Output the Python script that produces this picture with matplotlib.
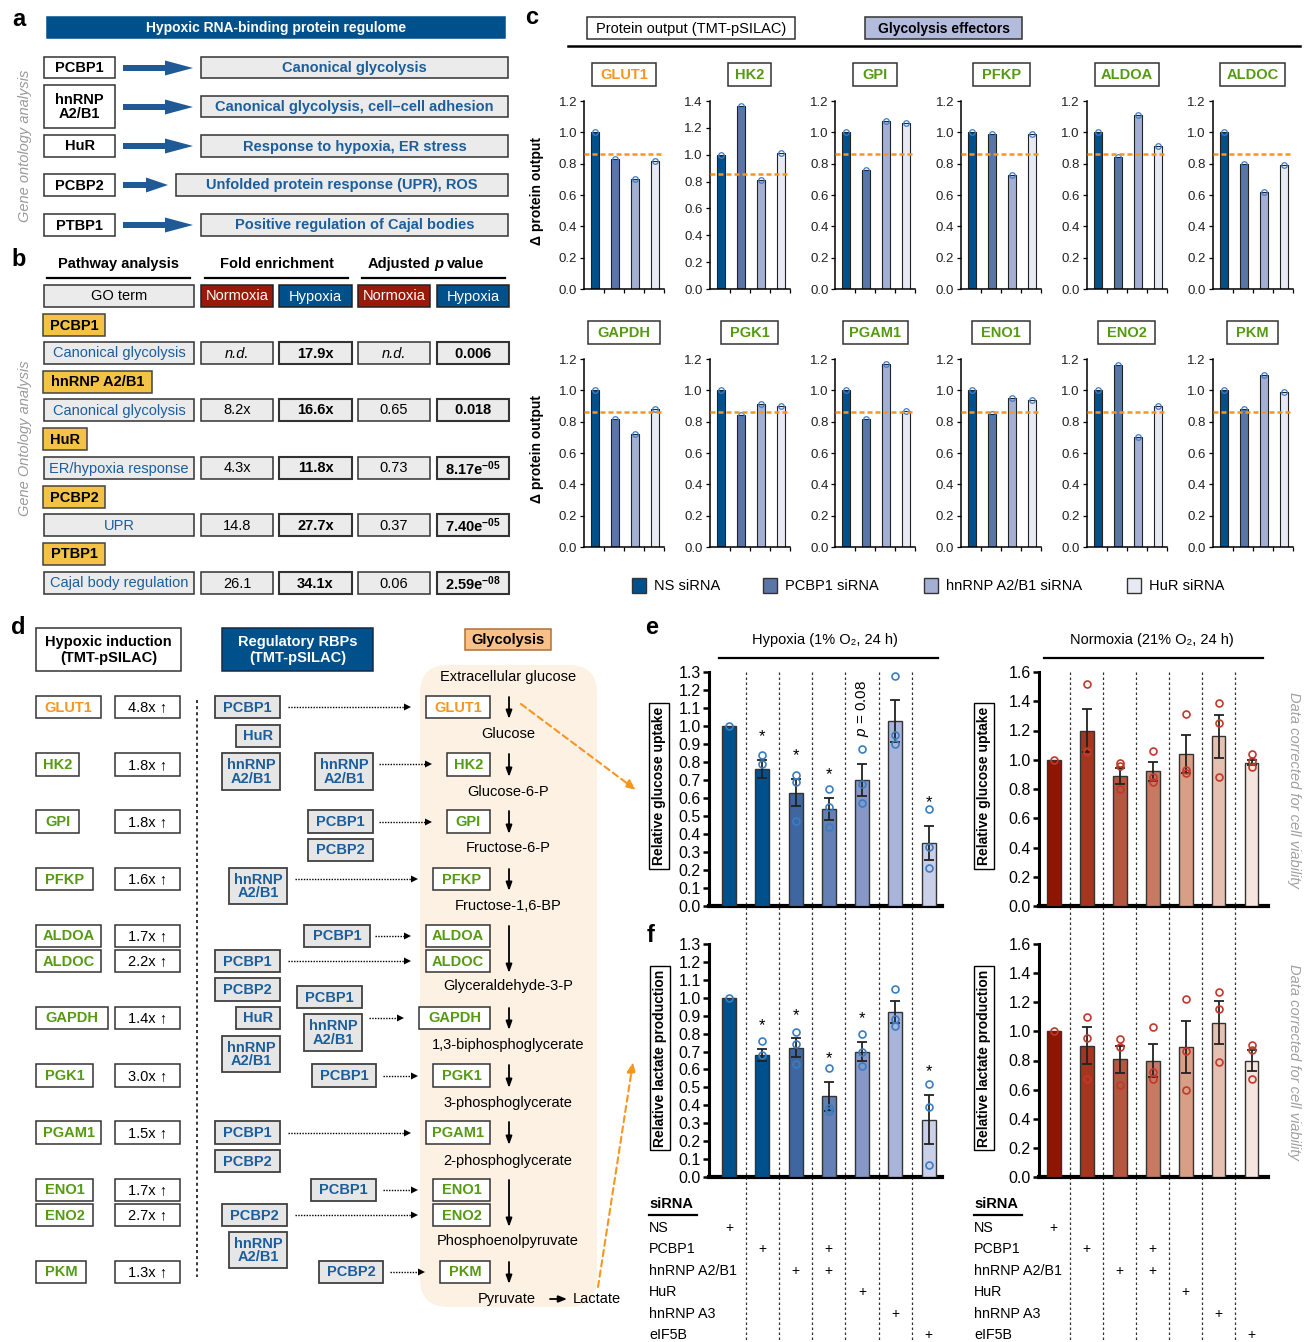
import numpy as np
import matplotlib
matplotlib.use("Agg")
import matplotlib.pyplot as plt
from matplotlib.patches import Rectangle, FancyBboxPatch, FancyArrow, Polygon
from matplotlib.transforms import blended_transform_factory

plt.rcParams.update({"font.family": ["Liberation Sans", "DejaVu Sans"],
                     "mathtext.fontset": "custom", "mathtext.rm": "Liberation Sans",
                     "mathtext.it": "Liberation Sans:italic", "mathtext.bf": "Liberation Sans:bold"})

# ---------------- data ----------------
a_rbps = ["PCBP1", "hnRNP\nA2/B1", "HuR", "PCBP2", "PTBP1"]
a_terms = ["Canonical glycolysis", "Canonical glycolysis, cell\u2013cell adhesion",
           "Response to hypoxia, ER stress", "Unfolded protein response (UPR), ROS",
           "Positive regulation of Cajal bodies"]

b_rbps = ["PCBP1", "hnRNP A2/B1", "HuR", "PCBP2", "PTBP1"]
b_terms = ["Canonical glycolysis", "Canonical glycolysis", "ER/hypoxia response", "UPR",
           "Cajal body regulation"]
b_fold_norm = ["n.d.", "8.2x", "4.3x", "14.8", "26.1"]
b_fold_hyp = ["17.9x", "16.6x", "11.8x", "27.7x", "34.1x"]
b_p_norm = ["n.d.", "0.65", "0.73", "0.37", "0.06"]
b_p_hyp = ["0.006", "0.018", "8.17e^{-05}", "7.40e^{-05}", "2.59e^{-08}"]

c_genes = ["GLUT1", "HK2", "GPI", "PFKP", "ALDOA", "ALDOC",
           "GAPDH", "PGK1", "PGAM1", "ENO1", "ENO2", "PKM"]
c_ns = [1.0] * 12
c_pcbp1 = [0.83, 1.36, 0.76, 0.99, 0.84, 0.80, 0.82, 0.84, 0.82, 0.85, 1.16, 0.88]
c_hnrnp = [0.70, 0.81, 1.07, 0.73, 1.11, 0.62, 0.72, 0.91, 1.17, 0.95, 0.70, 1.10]
c_hur = [0.82, 1.01, 1.06, 0.99, 0.91, 0.79, 0.88, 0.90, 0.87, 0.94, 0.90, 0.99]
c_cut = 0.86
c_series = ["NS siRNA", "PCBP1 siRNA", "hnRNP A2/B1 siRNA", "HuR siRNA"]

d_genes = c_genes
d_fold = ["4.8x", "1.8x", "1.8x", "1.6x", "1.7x", "2.2x", "1.4x", "3.0x", "1.5x", "1.7x", "2.7x", "1.3x"]
d_metabolites = ["Extracellular glucose", "Glucose", "Glucose-6-P", "Fructose-6-P", "Fructose-1,6-BP",
                 "Glyceraldehyde-3-P", "1,3-biphosphoglycerate", "3-phosphoglycerate",
                 "2-phosphoglycerate", "Phosphoenolpyruvate"]

sirna_rows = ["NS", "PCBP1", "hnRNP A2/B1", "HuR", "hnRNP A3", "eIF5B"]
sirna_plus = [[0], [1, 3], [2, 3], [4], [5], [6]]

hyp_glu_mean = [1.0, 0.76, 0.63, 0.54, 0.70, 1.03, 0.35]
hyp_glu_sem = [0, 0.05, 0.075, 0.06, 0.087, 0.117, 0.097]
hyp_glu_pts = [[1.0], [0.84, 0.79], [0.73, 0.69, 0.47], [0.65, 0.55, 0.44], [0.87, 0.68, 0.57],
               [1.28, 0.95, 0.90], [0.54, 0.33, 0.21]]
hyp_glu_star = [1, 2, 3, 6]

nor_glu_mean = [1.0, 1.20, 0.89, 0.92, 1.04, 1.16, 0.98]
nor_glu_sem = [0, 0.15, 0.055, 0.065, 0.13, 0.145, 0.018]
nor_glu_pts = [[1.0], [1.52, 1.06, 1.05], [0.98, 0.96, 0.80], [1.06, 0.88, 0.85], [1.31, 0.93, 0.91],
               [1.39, 1.25, 0.88], [1.04, 0.99, 0.95]]

hyp_lac_mean = [1.0, 0.68, 0.72, 0.45, 0.70, 0.92, 0.32]
hyp_lac_sem = [0, 0.033, 0.053, 0.08, 0.053, 0.062, 0.138]
hyp_lac_pts = [[1.0], [0.76, 0.68], [0.81, 0.74, 0.63], [0.61, 0.385, 0.37], [0.80, 0.70, 0.62],
               [1.05, 0.88, 0.84], [0.52, 0.39, 0.065]]
hyp_lac_star = [1, 2, 3, 4, 6]

nor_lac_mean = [1.0, 0.90, 0.81, 0.80, 0.89, 1.06, 0.80]
nor_lac_sem = [0, 0.127, 0.093, 0.11, 0.178, 0.149, 0.071]
nor_lac_pts = [[1.0], [1.10, 0.955, 0.67], [0.95, 0.89, 0.635], [1.03, 0.72, 0.675],
               [1.225, 0.865, 0.60], [1.27, 1.155, 0.79], [0.905, 0.87, 0.67]]

# ---------------- style ----------------
NAVY = "#00508C"
TBLUE = "#1B5E9B"
GREEN = "#559A12"
ORANGE = "#F7961E"
GRAY = "#EBEBEB"
EDGE = "#333333"
YELLOW = "#F4C244"
RED = "#9A1A0A"
c_colors = ["#00508C", "#5A75A8", "#A3B0D4", "#E7EAF3"]
hyp_colors = ["#00508C", "#00508C", "#3E67A1", "#6480B4", "#8798C7", "#A8B4DA", "#CACFEA"]
nor_colors = ["#8E1500", "#A3361F", "#B5563F", "#C67A61", "#D89E86", "#E6C1B1", "#F6E4DE"]

W, H = 1312, 1342
fig = plt.figure(figsize=(W / 100, H / 100), dpi=100)
cv = fig.add_axes([0, 0, 1, 1])
cv.set_xlim(0, W); cv.set_ylim(H, 0); cv.axis("off")


def px_axes(x0, y0, x1, y1):
    return fig.add_axes([x0 / W, 1 - y1 / H, (x1 - x0) / W, (y1 - y0) / H])


def box(x0, y0, x1, y1, text="", fc="white", ec=EDGE, color="black", fs=10.5,
        weight="bold", style="normal", lw=1.1, ls=1.0):
    cv.add_patch(Rectangle((x0, y0), x1 - x0, y1 - y0, fc=fc, ec=ec, lw=lw))
    if text:
        cv.text((x0 + x1) / 2, (y0 + y1) / 2 + 0.5, text, ha="center", va="center", color=color,
                fontsize=fs, fontweight=weight, fontstyle=style, linespacing=ls)


def letter(x, y, s):
    cv.text(x, y, s, fontsize=17, fontweight="bold", ha="center", va="center")


# ---------------- panel a ----------------
letter(19, 19, "a")
box(47, 17, 505, 38, "Hypoxic RNA-binding protein regulome", fc=NAVY, ec=NAVY, color="white", fs=10)
cv.text(25, 146, "Gene ontology analysis", rotation=90, ha="center", va="center",
        color="#9A9A9A", fontsize=10.5, fontstyle="italic")
a_left = [(57, 78), (85, 128), (135, 157), (174, 196), (214, 236)]
a_right = [(201, 57, 78), (201, 96, 117), (201, 135, 157), (176, 174, 196), (201, 214, 236)]
a_arrow_y = [68, 107, 146, 185, 225]
for i in range(5):
    y0, y1 = a_left[i]
    box(44, y0, 115, y1, a_rbps[i], fs=10.5, ls=1.05)
    xr, r0, r1 = a_right[i]
    box(xr, r0, 508, r1, a_terms[i], fc=GRAY, color=TBLUE, fs=10.5)
    end = xr - 8
    cv.add_patch(FancyArrow(123, a_arrow_y[i], end - 123, 0, width=6, head_width=15,
                            head_length=28 if i != 3 else 22, length_includes_head=True,
                            fc="#1F5A96", ec="none"))

# ---------------- panel b ----------------
letter(19, 259, "b")
cv.text(25, 438, "Gene Ontology analysis", rotation=90, ha="center", va="center",
        color="#9A9A9A", fontsize=10.5, fontstyle="italic")
cv.text(119, 264, "Pathway analysis", ha="center", va="center", fontsize=10.5, fontweight="bold")
cv.text(277, 264, "Fold enrichment", ha="center", va="center", fontsize=10.5, fontweight="bold")
cv.text(430, 264, "Adjusted", ha="right", va="center", fontsize=10.5, fontweight="bold")
cv.text(434, 264, "p", ha="left", va="center", fontsize=10.5, fontweight="bold", fontstyle="italic")
cv.text(447, 264, "value", ha="left", va="center", fontsize=10.5, fontweight="bold")
for x0, x1 in [(47, 190), (205, 348), (362, 505)]:
    cv.plot([x0, x1], [278, 278], color="black", lw=1.6)
box(44, 285, 194, 307, "GO term", fc=GRAY, weight="normal", fs=10.5)
box(201, 285, 273, 307, "Normoxia", fc=RED, ec="#222", color="white", weight="normal", fs=10.5)
box(279, 285, 352, 307, "Hypoxia", fc=NAVY, ec="#222", color="white", weight="normal", fs=10.5)
box(358, 285, 430, 307, "Normoxia", fc=RED, ec="#222", color="white", weight="normal", fs=10.5)
box(437, 285, 509, 307, "Hypoxia", fc=NAVY, ec="#222", color="white", weight="normal", fs=10.5)
b_label_rows = [314, 371, 428, 486, 543]
b_label_w = [105, 152, 87, 105, 105]
b_data_rows = [342, 399, 457, 514, 572]
for i in range(5):
    y = b_label_rows[i]
    box(43, y, b_label_w[i], y + 22, b_rbps[i], fc=YELLOW, ec="#444", fs=10.5)
    y = b_data_rows[i]
    box(44, y, 194, y + 22, b_terms[i], fc=GRAY, color=TBLUE, weight="normal", fs=10.5)
    nd = b_fold_norm[i] == "n.d."
    box(201, y, 273, y + 22, b_fold_norm[i], fc=GRAY, weight="normal", fs=10.5,
        style="italic" if nd else "normal")
    box(279, y, 352, y + 22, b_fold_hyp[i], fc=GRAY, fs=10.5, lw=1.5)
    box(358, y, 430, y + 22, b_p_norm[i], fc=GRAY, weight="normal", fs=10.5,
        style="italic" if nd else "normal")
    box(437, y, 509, y + 22, r"$\mathbf{" + b_p_hyp[i] + "}$", fc=GRAY, fs=10.5, lw=1.5)

# ---------------- panel c ----------------
letter(532, 18, "c")
box(587, 17, 795, 39, "Protein output (TMT-pSILAC)", weight="normal", fs=10.5)
box(865, 17, 1022, 39, "Glycolysis effectors", fc="#B3BCDC", fs=10)
cv.plot([568, 1300], [46, 46], color="black", lw=1.8)
c_title_w = [64, 43, 44, 57, 64, 65, 72, 57, 65, 58, 57, 51]
for k, gene in enumerate(c_genes):
    row, col = divmod(k, 6)
    x0 = 584 + 125.7 * col
    y0 = 101 if row == 0 else 359
    ax = px_axes(x0, y0, x0 + 80, y0 + 188)
    vals = [c_ns[k], c_pcbp1[k], c_hnrnp[k], c_hur[k]]
    xs = np.arange(4) + 0.55
    ax.bar(xs, vals, width=0.4, color=c_colors, edgecolor="#222", lw=0.8, zorder=2)
    ax.plot(xs, vals, "o", mfc="none", mec="#3D7CC9", ms=4, mew=0.9, clip_on=False, zorder=3)
    ax.axhline(c_cut, color=ORANGE, ls=(0, (2, 1.2)), lw=1.8, zorder=4)
    top = 1.4 if max(vals) > 1.2 else 1.2
    ax.set_ylim(0, top); ax.set_xlim(0, 4)
    ticks = np.arange(0, top + 0.01, 0.2)
    ax.set_yticks(ticks)
    ax.set_yticklabels([f"{t:.1f}" for t in ticks], fontsize=9.5, color="#222")
    ax.set_xticks([1, 2, 3, 4]); ax.set_xticklabels([])
    ax.tick_params(length=3, width=0.9, pad=2)
    for s in ["top", "right"]:
        ax.spines[s].set_visible(False)
    for s in ["left", "bottom"]:
        ax.spines[s].set_linewidth(1.1)
    cx = x0 + 40
    w = c_title_w[k]
    box(cx - w / 2, y0 - 38, cx + w / 2, y0 - 15, gene, color=ORANGE if gene == "GLUT1" else GREEN,
        fs=10.5)
cv.text(537, 191, "\u0394 protein output", rotation=90, ha="center", va="center",
        fontsize=10, fontweight="bold")
cv.text(537, 449, "\u0394 protein output", rotation=90, ha="center", va="center",
        fontsize=10, fontweight="bold")
leg_x = [632, 763, 924, 1127]
for lx, lab, col in zip(leg_x, c_series, c_colors):
    cv.add_patch(Rectangle((lx, 578), 14, 15, fc=col, ec=EDGE, lw=1))
    cv.text(lx + 22, 586, lab, ha="left", va="center", fontsize=10.5)

# ---------------- panel d ----------------
letter(18, 628, "d")
box(36, 628, 181, 671, "Hypoxic induction\n(TMT-pSILAC)", fs=10.5, ls=1.15)
box(222, 628, 373, 671, "Regulatory RBPs\n(TMT-pSILAC)", fc=NAVY, ec="#1a2a40", color="white",
    fs=10.5, ls=1.15)
cv.add_patch(FancyBboxPatch((420, 665), 177, 642, boxstyle="round,pad=0,rounding_size=28",
                            fc="#FDF1E3", ec="none"))
box(465, 629, 551, 650, "Glycolysis", fc="#F9C08A", ec="#B0732E", fs=10.5)

d_rows = [(696, 718), (753, 776), (810, 833), (868, 890), (925, 947), (950, 972),
          (1007, 1029), (1064, 1087), (1121, 1144), (1179, 1201), (1204, 1226), (1261, 1283)]
d_left_w = [101, 79, 79, 93, 101, 101, 108, 93, 101, 93, 93, 86]
d_right_x = [426, 447, 447, 433, 426, 426, 419, 433, 426, 433, 433, 440]
for i, gene in enumerate(d_genes):
    y0, y1 = d_rows[i]
    col = ORANGE if gene == "GLUT1" else GREEN
    box(36, y0, d_left_w[i], y1, gene, color=col, fs=10.5)
    box(115, y0, 180, y1, d_fold[i] + " \u2191", weight="normal", fs=10.5)
    box(d_right_x[i], y0, 490, y1, gene, color=col, fs=10.5)
cv.plot([197, 197], [700, 1277], color="black", lw=1.1, ls=(0, (2, 2)))

# glycolytic steps (down arrows): GLUT1, HK2, GPI, PFKP, ALDOA/C, GAPDH, PGK1, PGAM1, ENO1/2, PKM
d_steps = [(0, 0), (1, 1), (2, 2), (3, 3), (4, 5), (6, 6), (7, 7), (8, 8), (9, 10), (11, 11)]
for a, b in d_steps:
    cv.annotate("", xy=(509, d_rows[b][1] + 1), xytext=(509, d_rows[a][0] + 1),
                arrowprops=dict(arrowstyle="-|>,head_length=0.5,head_width=0.18", color="black",
                                lw=1.3, shrinkA=0, shrinkB=0))
met_y = [677, 734, 792, 848, 906, 986, 1045, 1103, 1161, 1241]
for m, y in zip(d_metabolites, met_y):
    cv.text(508, y, m, ha="center", va="center", fontsize=10.5)
cv.text(507, 1299, "Pyruvate", ha="center", va="center", fontsize=10.5)
cv.annotate("", xy=(567, 1299), xytext=(550, 1299),
            arrowprops=dict(arrowstyle="-|>,head_length=0.5,head_width=0.2", color="black", lw=1.3,
                            shrinkA=0, shrinkB=0))
cv.text(573, 1299, "Lactate", ha="left", va="center", fontsize=10.5)

d_rbp_boxes = [("PCBP1", 215, 280, 696, 718), ("HuR", 236, 280, 725, 747),
               ("hnRNP\nA2/B1", 222, 280, 753, 790), ("hnRNP\nA2/B1", 315, 373, 753, 790),
               ("PCBP1", 308, 373, 810, 833), ("PCBP2", 308, 373, 839, 861),
               ("hnRNP\nA2/B1", 229, 287, 868, 904), ("PCBP1", 304, 370, 925, 947),
               ("PCBP1", 215, 280, 950, 972), ("PCBP2", 215, 280, 978, 1001),
               ("PCBP1", 297, 362, 986, 1008), ("HuR", 236, 280, 1007, 1029),
               ("hnRNP\nA2/B1", 304, 362, 1014, 1051), ("hnRNP\nA2/B1", 222, 280, 1036, 1072),
               ("PCBP1", 312, 376, 1064, 1087), ("PCBP1", 215, 280, 1121, 1144),
               ("PCBP2", 215, 280, 1150, 1172), ("PCBP1", 311, 376, 1179, 1201),
               ("PCBP2", 222, 287, 1204, 1226), ("hnRNP\nA2/B1", 229, 287, 1232, 1268),
               ("PCBP2", 319, 383, 1261, 1283)]
for lab, x0, x1, y0, y1 in d_rbp_boxes:
    box(x0, y0, x1, y1, lab, fc="#E6E6E6", ec="#404040", color=TBLUE, fs=10.5, lw=1.3, ls=0.95)
d_links = [(288, 411, 707), (379, 432, 764), (379, 432, 822), (295, 418, 879), (375, 411, 936),
           (288, 411, 961), (369, 404, 1018), (383, 418, 1076), (288, 411, 1133), (383, 418, 1190),
           (295, 418, 1215), (390, 425, 1272)]
for x0, x1, y in d_links:
    cv.plot([x0, x1 - 6], [y, y], color="black", lw=1, ls=(0, (1, 1)))
    cv.add_patch(Polygon([(x1 - 7, y - 3.5), (x1 - 7, y + 3.5), (x1, y)], closed=True, fc="black"))

# orange links from glycolysis to measurements
cv.annotate("", xy=(636, 790), xytext=(521, 704),
            arrowprops=dict(arrowstyle="-|>,head_length=0.6,head_width=0.25", color=ORANGE, lw=1.5,
                            ls=(0, (3, 2)), shrinkA=0, shrinkB=0))
cv.annotate("", xy=(633, 1062), xytext=(598, 1287),
            arrowprops=dict(arrowstyle="-|>,head_length=0.6,head_width=0.25", color=ORANGE, lw=1.5,
                            ls=(0, (3, 2)), shrinkA=0, shrinkB=0))

# ---------------- panels e / f ----------------
letter(652, 627, "e")
letter(651, 935, "f")


def bar_panel(rect, means, sems, pts, colors, ymax, step, ptc, xlim, stars=(), pnote=None):
    ax = px_axes(*rect)
    ax.patch.set_alpha(0)
    x = np.arange(len(means))
    ax.bar(x, means, width=0.42, color=colors, edgecolor="#333", lw=1, zorder=3)
    ax.errorbar(x[1:], means[1:], yerr=sems[1:], fmt="none", ecolor="#222", elinewidth=1.3,
                capsize=3.5, capthick=1.3, zorder=4)
    for xi, p in zip(x, pts):
        ax.plot([xi] * len(p), p, "o", mfc="none", mec=ptc, ms=5, mew=1.2, zorder=5, clip_on=False)
    for i in stars:
        ax.text(i, means[i] + sems[i] + 0.13, "*", ha="center", va="center", fontsize=12)
    if pnote is not None:
        ax.text(pnote, means[pnote] + sems[pnote] + 0.31, r"$\it{p}$ = 0.08", rotation=90,
                ha="center", va="center", fontsize=11)
    ax.set_xlim(*xlim); ax.set_ylim(0, ymax)
    ticks = np.arange(0, ymax + 1e-6, step)
    ax.set_yticks(ticks)
    ax.set_yticklabels([f"{t:.1f}" for t in ticks], fontsize=11.5)
    ax.set_xticks([])
    ax.tick_params(axis="y", length=4, width=1.8, pad=2)
    for s in ["top", "right"]:
        ax.spines[s].set_visible(False)
    ax.spines["left"].set_linewidth(2.2)
    ax.spines["bottom"].set_linewidth(3)
    return ax


ax_he = bar_panel((709, 672, 942, 906), hyp_glu_mean, hyp_glu_sem, hyp_glu_pts, hyp_colors, 1.3, 0.1,
                  "#3A7DC0", (-0.6, 6.4), hyp_glu_star, pnote=4)
ax_ne = bar_panel((1039, 672, 1268, 906), nor_glu_mean, nor_glu_sem, nor_glu_pts, nor_colors, 1.6, 0.2,
                  "#C0392B", (-0.45, 6.5))
ax_hf = bar_panel((709, 944, 942, 1177), hyp_lac_mean, hyp_lac_sem, hyp_lac_pts, hyp_colors, 1.3, 0.1,
                  "#3A7DC0", (-0.6, 6.4), hyp_lac_star)
ax_nf = bar_panel((1039, 944, 1268, 1177), nor_lac_mean, nor_lac_sem, nor_lac_pts, nor_colors, 1.6, 0.2,
                  "#C0392B", (-0.45, 6.5))

row_y = [1228, 1249, 1271, 1292, 1314, 1335]
for ax, tx in [(ax_he, 649), (ax_ne, 974)]:
    tr = blended_transform_factory(ax.transData, fig.transFigure)
    for xs in np.arange(0.5, 6, 1.0):
        ax.plot([xs, xs], [1 - 672 / H, 0], transform=tr, color="#333", lw=0.9, ls=(0, (2, 2)),
                clip_on=False, zorder=1)
    for r, cols_ in enumerate(sirna_plus):
        for c in cols_:
            ax.text(c, 1 - row_y[r] / H, "+", transform=tr, ha="center", va="center", fontsize=10)
    cv.text(tx, 1204, "siRNA", ha="left", va="center", fontsize=10.5, fontweight="bold")
    cv.plot([tx, tx + 48], [1215, 1215], color="black", lw=1.6)
    for r, lab in enumerate(sirna_rows):
        cv.text(tx, row_y[r], lab, ha="left", va="center", fontsize=10.3)

cv.text(825, 640, "Hypoxia (1% O\u2082, 24 h)", ha="center", va="center", fontsize=10.5)
cv.plot([719, 938], [658, 658], color="black", lw=1.6)
cv.text(1152, 640, "Normoxia (21% O\u2082, 24 h)", ha="center", va="center", fontsize=10.5)
cv.plot([1044, 1263], [658, 658], color="black", lw=1.6)

lab_box = dict(boxstyle="square,pad=0.25", fc="white", ec="black", lw=1)
for x, y, s in [(659, 786, "Relative glucose uptake"), (984, 786, "Relative glucose uptake"),
                (660, 1058, "Relative lactate production"), (984, 1058, "Relative lactate production")]:
    cv.text(x, y, s, rotation=90, ha="center", va="center", fontsize=10, fontweight="bold",
            bbox=lab_box)
for y in [790, 1062]:
    cv.text(1294, y, "Data corrected for cell viability", rotation=-90, ha="center", va="center",
            fontsize=10.5, fontstyle="italic", color="#A0A0A0")

fig.savefig("out.png", dpi=100)
